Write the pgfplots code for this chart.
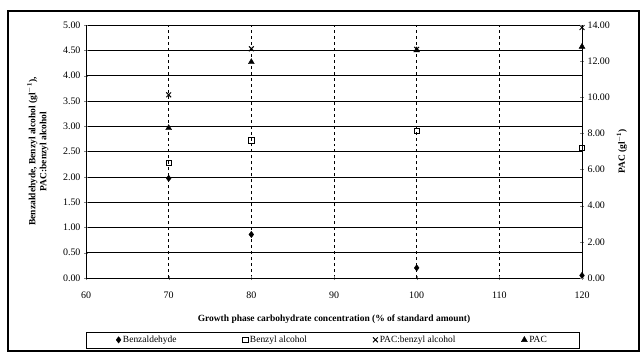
\documentclass[border=0pt]{standalone}
\usepackage{fontspec}
\setmainfont{Liberation Serif}
\usepackage{pgfplots}
\pgfplotsset{compat=1.18}
\begin{document}
\begin{tikzpicture}[x=1bp,y=1bp]
\path (0,0) rectangle (643,355);
\draw[line width=1.1pt] (8,4) rectangle (639,344);
\pgfplotsset{
  common/.style={
    at={(86bp,77bp)}, anchor=south west,
    scale only axis, width=496bp, height=253bp,
    xmin=60, xmax=120,
    tick label style={font=\fontsize{10}{11}\selectfont},
    /pgf/number format/assume math mode=true,
    tick align=center, major tick length=4bp,
    axis line style={line width=0.5pt},
  }
}
\begin{axis}[common,
  axis y line*=left, axis x line*=bottom,
  ymin=0, ymax=5,
  xtick={60,70,...,120},
  ytick={0,0.5,...,5},
  yticklabel style={/pgf/number format/.cd,fixed,fixed zerofill,precision=2},
  xticklabel style={yshift=-8bp, /pgf/number format/.cd,fixed,precision=0},
  ymajorgrids, xmajorgrids,
  y grid style={black, line width=0.5pt},
  x grid style={black, dashed, line width=0.4pt},
  xlabel={\bfseries Growth phase carbohydrate concentration (\% of standard amount)},
  ylabel={\bfseries Benzaldehyde, Benzyl alcohol (gl$^{\mathbf{-1}}$),\\\bfseries PAC:benzyl alcohol},
  ylabel style={align=center, font=\fontsize{9.5}{11}\selectfont, at={(axis description cs:-0.097,0.5)}, anchor=center},
  xlabel style={font=\fontsize{9.5}{11}\selectfont, yshift=-10bp},
  legend columns=4,
  legend style={at={(0,-0.212)}, anchor=north west, draw=black, line width=0.4pt,
    font=\fontsize{9.5}{11}\selectfont, inner xsep=30bp, inner ysep=2bp,
    /tikz/every even column/.append style={column sep=64bp}},
  legend cell align=left,
]
\addplot[only marks, mark=diamond*, mark size=3.2bp, black] coordinates {(70,1.97) (80,0.86) (100,0.20) (120,0.05)};
\addlegendentry{Benzaldehyde}
\addplot[only marks, mark=square, mark size=2.7bp, black, line width=0.8pt] coordinates {(70,2.28) (80,2.72) (100,2.91) (120,2.57)};
\addlegendentry{Benzyl alcohol}
\addplot[only marks, mark=x, mark size=3.4bp, black, line width=1pt] coordinates {(70,3.62) (80,4.53) (100,4.52) (120,4.95)};
\addlegendentry{PAC:benzyl alcohol}
\addlegendimage{only marks, mark=triangle*, mark size=3.4bp, black}
\addlegendentry{PAC}
\end{axis}
\begin{axis}[common,
  axis y line*=right, axis x line=none,
  ymin=0, ymax=14,
  ytick={0,2,...,14},
  yticklabel style={/pgf/number format/.cd,fixed,fixed zerofill,precision=2},
  ylabel={\bfseries PAC (gl$^{\mathbf{-1}}$)},
  ylabel style={font=\fontsize{9.5}{11}\selectfont},
]
\addplot[only marks, mark=triangle*, mark size=3.4bp, black] coordinates {(70,8.3) (80,11.95) (100,12.6) (120,12.8)};
\end{axis}
\end{tikzpicture}
\end{document}
